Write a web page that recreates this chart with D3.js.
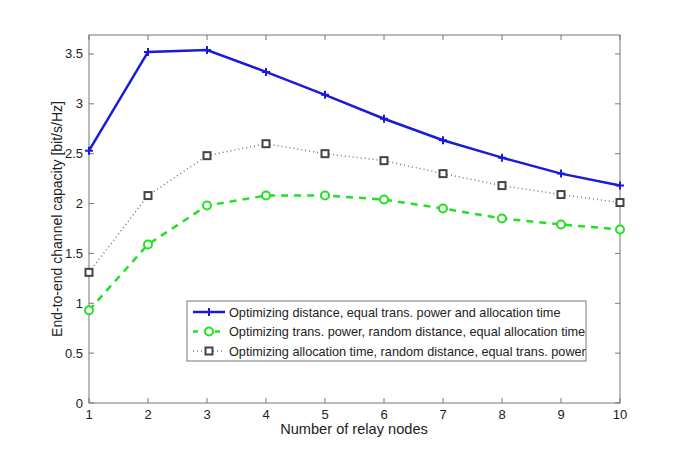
<!DOCTYPE html>
<html><head><meta charset="utf-8">
<script src="https://cdn.jsdelivr.net/npm/d3@7"></script>
<style>body{margin:0;background:#fff}svg{display:block}text{font-family:"Liberation Sans",Arial,sans-serif}</style>
</head><body><svg id="c" width="685" height="453"></svg>
<script>
const nodes = [1,2,3,4,5,6,7,8,9,10];
const distOpt = [2.53,3.52,3.54,3.32,3.09,2.85,2.635,2.46,2.30,2.18];
const powerOpt = [0.93,1.59,1.98,2.08,2.08,2.04,1.95,1.85,1.79,1.74];
const timeOpt = [1.31,2.08,2.48,2.60,2.50,2.43,2.30,2.18,2.09,2.01];
const yTicks = [0,0.5,1,1.5,2,2.5,3,3.5];
const labels = ["Optimizing distance, equal trans. power and allocation time",
  "Optimizing trans. power, random distance, equal allocation time",
  "Optimizing allocation time, random distance, equal trans. power"];

const svg = d3.select("#c");
const L=89, R=620, T=35, B=403;
const x = d3.scaleLinear().domain([1,10]).range([L,R]);
const y = d3.scaleLinear().domain([0,3.69]).range([B,T]);
const axc = "#777";

svg.append("rect").attr("x",L).attr("y",T).attr("width",R-L).attr("height",B-T)
  .attr("fill","none").attr("stroke",axc).attr("stroke-width",1);

const g = svg.append("g");
nodes.forEach(v=>{
  g.append("line").attr("x1",x(v)).attr("x2",x(v)).attr("y1",B).attr("y2",B-5).attr("stroke",axc);
  g.append("line").attr("x1",x(v)).attr("x2",x(v)).attr("y1",T).attr("y2",T+5).attr("stroke",axc);
  g.append("text").attr("x",x(v)).attr("y",B+15.5).attr("text-anchor","middle").attr("font-size",13).attr("fill","#222").text(v);
});
yTicks.forEach(v=>{
  g.append("line").attr("x1",L).attr("x2",L+5).attr("y1",y(v)).attr("y2",y(v)).attr("stroke",axc);
  g.append("line").attr("x1",R).attr("x2",R-5).attr("y1",y(v)).attr("y2",y(v)).attr("stroke",axc);
  g.append("text").attr("x",L-6).attr("y",y(v)+4.5).attr("text-anchor","end").attr("font-size",13).attr("fill","#222").text(v);
});
svg.append("text").attr("x",354).attr("y",434).attr("text-anchor","middle").attr("font-size",14.6).attr("fill","#222").text("Number of relay nodes");
svg.append("text").attr("transform",`translate(62,${(T+B)/2}) rotate(-90)`).attr("text-anchor","middle").attr("font-size",14).attr("fill","#222").text("End-to-end channel capacity [bit/s/Hz]");

const line = d3.line().x((d,i)=>x(nodes[i])).y(d=>y(d));
const series = [
  {data:distOpt,color:"#1a1adc",w:2.5,dash:null,marker:"plus"},
  {data:powerOpt,color:"#22e022",w:2.5,dash:"7,6",marker:"circle"},
  {data:timeOpt,color:"#777",w:1.5,dash:"1,3",marker:"square"}
];
function drawMarker(sel,type,cx,cy){
  if(type==="plus"){
    sel.append("path").attr("d",`M${cx-4},${cy}H${cx+4}M${cx},${cy-4}V${cy+4}`).attr("stroke","#1a1adc").attr("stroke-width",2);
  } else if(type==="circle"){
    sel.append("circle").attr("cx",cx).attr("cy",cy).attr("r",4).attr("fill","#fff").attr("stroke","#22e022").attr("stroke-width",2);
  } else {
    sel.append("rect").attr("x",cx-3.5).attr("y",cy-3.5).attr("width",7).attr("height",7).attr("fill","#fff").attr("stroke","#444").attr("stroke-width",2);
  }
}
series.forEach(s=>{
  svg.append("path").attr("d",line(s.data)).attr("fill","none").attr("stroke",s.color).attr("stroke-width",s.w)
    .attr("stroke-dasharray",s.dash);
});
series.forEach(s=>{
  s.data.forEach((d,i)=>drawMarker(svg,s.marker,x(nodes[i]),y(d)));
});

const lg = svg.append("g");
lg.append("rect").attr("x",187).attr("y",301).attr("width",399).attr("height",60).attr("fill","#fff").attr("stroke",axc);
series.forEach((s,i)=>{
  const ly = 312 + i*19.5;
  lg.append("line").attr("x1",193).attr("x2",225).attr("y1",ly).attr("y2",ly).attr("stroke",s.color).attr("stroke-width",s.w).attr("stroke-dasharray",s.dash===null?null:(i===1?"5,6":"1,3"));
  drawMarker(lg,s.marker,209,ly);
  lg.append("text").attr("x",229).attr("y",ly+4.5).attr("font-size",12.7).attr("fill","#222").text(labels[i]);
});
</script></body></html>
